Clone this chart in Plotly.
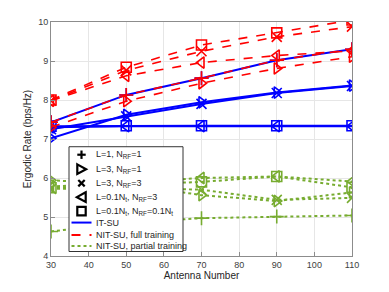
import plotly.graph_objects as go

antennas = [30, 50, 70, 90, 110]

# IT-SU (blue solid)
it_L1 = [7.43, 8.13, 8.56, 9.02, 9.30]
it_L3_R1 = [7.02, 7.62, 7.94, 8.19, 8.37]
it_L3_R3 = [7.25, 7.58, 7.90, 8.18, 8.36]
it_L01_R3 = [7.30, 7.33, 7.33, 7.33, 7.33]
it_L01_R01 = [7.33, 7.34, 7.34, 7.34, 7.34]

# NIT-SU full training (red dashed)
fu_L1 = [7.43, 8.13, 8.56, 9.02, 9.30]
fu_L3_R1 = [7.30, 7.97, 8.43, 8.81, 9.11]
fu_L3_R3 = [7.98, 8.76, 9.25, 9.62, 9.88]
fu_L01_R3 = [7.98, 8.62, 8.96, 9.14, 9.26]
fu_L01_R01 = [8.00, 8.84, 9.41, 9.72, 10.05]

# NIT-SU partial training (green dotted)
pa_L1 = [4.63, 4.85, 4.97, 5.01, 5.04]
pa_L3_R1 = [5.94, 5.85, 5.56, 5.41, 5.63]
pa_L3_R3 = [5.72, 5.75, 5.70, 5.44, 5.49]
pa_L01_R3 = [5.78, 5.88, 6.00, 6.04, 5.91]
pa_L01_R01 = [5.75, 5.82, 5.90, 6.04, 5.76]

legend_names = ["L=1, N<sub>RF</sub>=1", "L=3, N<sub>RF</sub>=1", "L=3, N<sub>RF</sub>=3",
                "L=0.1N<sub>t</sub>, N<sub>RF</sub>=3", "L=0.1N<sub>t</sub>, N<sub>RF</sub>=0.1N<sub>t</sub>"]
line_names = ["IT-SU", "NIT-SU, full training", "NIT-SU, partial training"]
symbols = ["cross-thin-open", "triangle-right-open", "x-thin-open", "triangle-left-open", "square-open"]

BLUE = "#0000FF"
RED = "#FF0000"
GREEN = "#77AC30"

OFF = 8  # page body margin
W, H = 389, 292
PW, PH = 301, 234.5
ML = 51 - OFF
MT = 22 - OFF
MR = W - ML - PW
MB = H - MT - PH


def px(x):
    return (x - OFF - ML) / PW


def py(y):
    return (MT + PH - (y - OFF)) / PH


fig = go.Figure()

groups = [
    ([it_L1, it_L3_R1, it_L3_R3, it_L01_R3, it_L01_R01], BLUE, "solid", 2),
    ([fu_L1, fu_L3_R1, fu_L3_R3, fu_L01_R3, fu_L01_R01], RED, "dash", 1.6),
    ([pa_L1, pa_L3_R1, pa_L3_R3, pa_L01_R3, pa_L01_R01], GREEN, "dot", 2),
]
for series, color, dash, w in groups:
    for ys, sym in zip(series, symbols):
        fig.add_trace(go.Scatter(
            x=antennas, y=ys, mode="lines+markers", showlegend=False,
            line=dict(color=color, dash=dash, width=w),
            marker=dict(symbol=sym, size=10, color=color, line=dict(color=color, width=1.6)),
        ))

# ---- custom legend (box, glyphs, texts) ----
shapes = []
annotations = []
box_x0, box_x1, box_y0, box_y1 = 69, 183, 147, 252
shapes.append(dict(type="rect", xref="paper", yref="paper", layer="above",
                   x0=px(box_x0), x1=px(box_x1), y0=py(box_y1), y1=py(box_y0),
                   fillcolor="white", line=dict(color="#333333", width=1)))

gx = 81.5
text_x = 93.5
marker_rows = [155, 169.5, 183.5, 197.5, 211.5]
line_rows = [223, 235.5, 246.5]
s = 4.2
lw = dict(color="black", width=2.2)


def seg(x0, y0, x1, y1, line):
    return dict(type="line", xref="paper", yref="paper", layer="above",
                x0=px(x0), y0=py(y0), x1=px(x1), y1=py(y1), line=line)


def path(points, line):
    d = "M " + " L ".join(f"{px(a):.5f},{py(b):.5f}" for a, b in points) + " Z"
    return dict(type="path", xref="paper", yref="paper", layer="above", path=d, line=line)


y = marker_rows[0]
shapes += [seg(gx - s, y, gx + s, y, lw), seg(gx, y - s, gx, y + s, lw)]
y = marker_rows[1]
shapes.append(path([(gx - s, y - s * 1.15), (gx + s * 1.1, y), (gx - s, y + s * 1.15)], lw))
y = marker_rows[2]
s2 = 3.2
shapes += [seg(gx - s2, y - s2, gx + s2, y + s2, lw), seg(gx - s2, y + s2, gx + s2, y - s2, lw)]
y = marker_rows[3]
shapes.append(path([(gx + s, y - s * 1.15), (gx - s * 1.1, y), (gx + s, y + s * 1.15)], lw))
y = marker_rows[4]
shapes.append(path([(gx - s, y - s), (gx + s, y - s), (gx + s, y + s), (gx - s, y + s)], lw))

for y, (c, d) in zip(line_rows, [(BLUE, "solid"), (RED, "dash"), (GREEN, "dot")]):
    shapes.append(seg(71.5, y, 91.5, y, dict(color=c, width=2, dash=d)))

for y, name in zip(marker_rows + line_rows, legend_names + line_names):
    annotations.append(dict(x=px(text_x), y=py(y), xref="paper", yref="paper",
                            text=name, showarrow=False, xanchor="left", yanchor="middle",
                            font=dict(size=9, color="#262626")))

axis_common = dict(showgrid=True, gridcolor="#E6E6E6", gridwidth=1, showline=True,
                   linecolor="#8C8C8C", linewidth=1, mirror=True, ticks="inside",
                   ticklen=4, tickcolor="#8C8C8C", zeroline=False,
                   tickfont=dict(size=9, color="#404040"))

fig.update_layout(
    width=W, height=H,
    margin=dict(l=ML, r=MR, t=MT, b=MB, autoexpand=False),
    paper_bgcolor="white", plot_bgcolor="white", showlegend=False,
    font=dict(family="Liberation Sans, Arial, sans-serif", size=9, color="#262626"),
    xaxis=dict(range=[30, 110], tickvals=[30, 40, 50, 60, 70, 80, 90, 100, 110],
               title=dict(text="Antenna Number", font=dict(size=10, color="#262626"), standoff=2),
               **axis_common),
    yaxis=dict(range=[4, 10], tickvals=[4, 5, 6, 7, 8, 9, 10],
               title=dict(text="Ergodic Rate (bps/Hz)", font=dict(size=10, color="#262626"), standoff=4),
               **axis_common),
    shapes=shapes, annotations=annotations,
)

fig.write_html("out.html")
